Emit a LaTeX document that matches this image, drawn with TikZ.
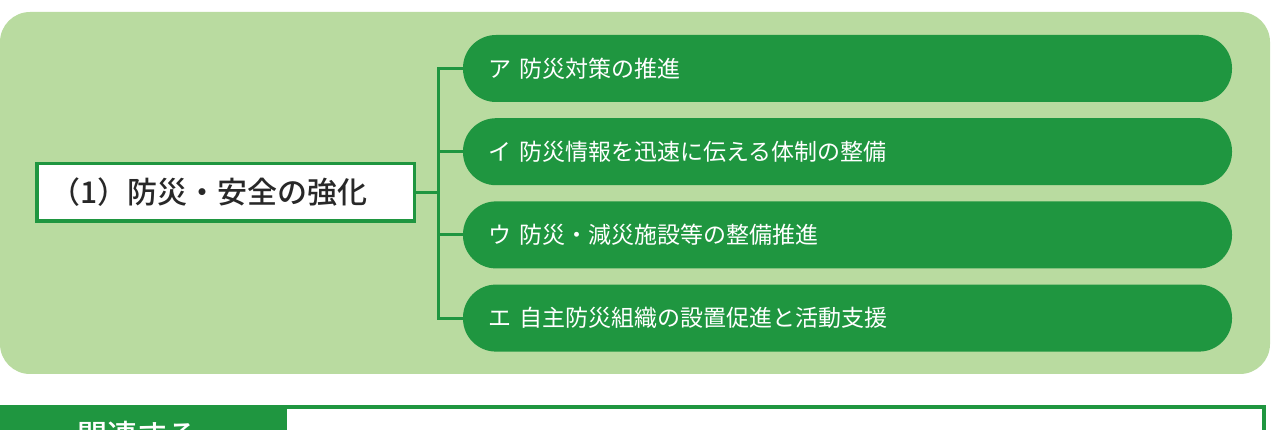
\documentclass[tikz,border=0pt]{standalone}
\usepackage{fontspec}
\setmainfont{Noto Sans CJK JP}
\newfontfamily\jpmedium{Noto Sans CJK JP}[UprightFont={* Medium}]
\usepackage{tikz}
\usetikzlibrary{positioning}
\usepackage{xcolor}
\definecolor{leafgreen}{RGB}{185,219,160}
\definecolor{deepgreen}{RGB}{31,150,64}
\definecolor{inkgray}{RGB}{40,40,40}

\begin{document}
\begin{tikzpicture}[x=1pt, y=-1pt,
                  every node/.style={inner sep=0pt, outer sep=0pt},
                  panel/.style={fill=leafgreen, rounded corners=30pt},
                  root/.style={draw=deepgreen, line width=3.5pt, fill=white,
                              minimum width=377.5pt, minimum height=57.5pt,
                              text width=350pt, align=left,
                              text=inkgray, font=\fontsize{30}{34}\selectfont\jpmedium},
                  measure/.style={fill=deepgreen, rounded corners=33pt,
                              minimum width=769pt, minimum height=67pt,
                              text width=718pt, align=left, text=white,
                              font=\fontsize{23}{28}\selectfont},
                  link/.style={draw=deepgreen, line width=3pt},
                  header/.style={fill=deepgreen, minimum width=287pt, minimum height=80pt},
                  relbox/.style={draw=deepgreen, line width=4pt, fill=white,
                              minimum width=979pt, minimum height=80pt},
            ]
            \useasboundingbox (0,0) rectangle (1275,430);
            \clip (0,0) rectangle (1275,430);
            % background panel
            \fill[panel] (0,12) rectangle (1270,374);

            \node[root] (root) at (225.5,192.5) {（1）防災・安全の強化};
            \node[measure] (ma) at (847.5,68.5) {ア 防災対策の推進};
            \node[measure, below=16.2pt of ma] (mb) {イ 防災情報を迅速に伝える体制の整備};
            \node[measure, below=16.2pt of mb] (mc) {ウ 防災・減災施設等の整備推進};
            \node[measure, below=16.2pt of mc] (md) {エ 自主防災組織の設置促進と活動支援};

            % tree connectors
            \coordinate (trunk) at (438,0);
            \draw[link] (ma.west) -- (trunk |- ma.west) -- (trunk |- md.west) -- (md.west);
            \draw[link] (mb.west) -- (trunk |- mb.west);
            \draw[link] (mc.west) -- (trunk |- mc.west);
            \draw[link] (root.east) -- (trunk |- root.east);

            % related plans box (cut off)
            \node[relbox, anchor=north west] (rel) at (285,407) {};
            \node[header, anchor=north west] (hdr) at (0,405) {};
            \node[text=white, font=\fontsize{30}{34}\selectfont\jpmedium] (hdrtext) at (137,435) {関連する};
      \end{tikzpicture}
\end{document}
